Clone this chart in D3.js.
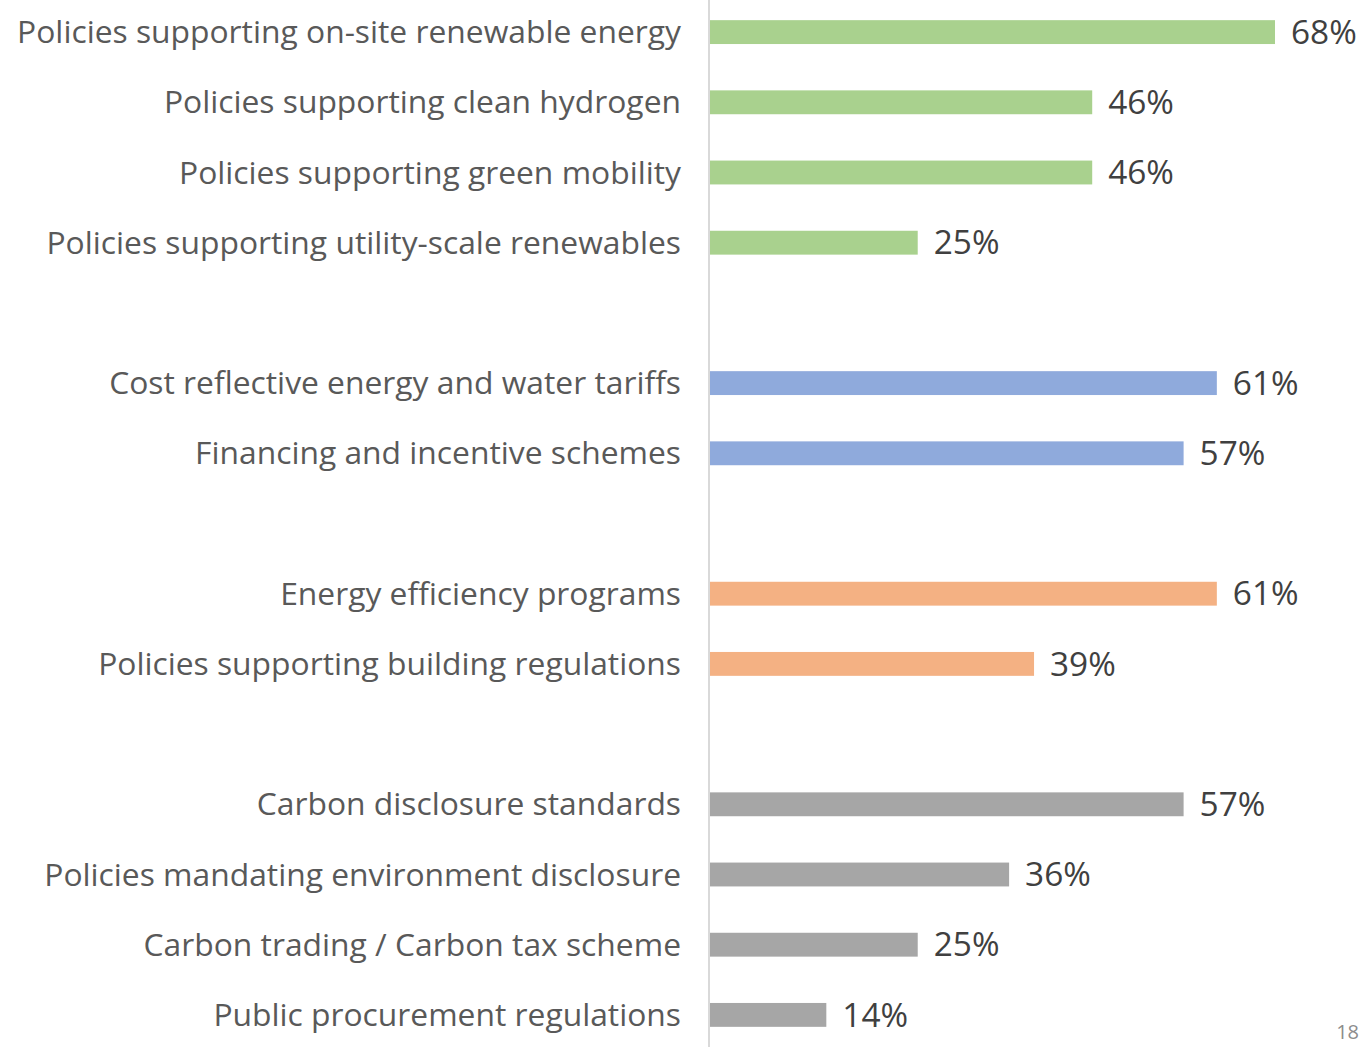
<!DOCTYPE html>
<meta charset="utf-8">
<style>
  body { margin: 0; background: #fff; }
</style>
<svg width="1367" height="1047"></svg>
<script src="https://d3js.org/d3.v7.min.js"></script>
<script>

var svg = d3.select("svg"),
    width = +svg.attr("width"),
    height = +svg.attr("height");

// rows top to bottom, "" = spacer between groups
var categories = [
  "Policies supporting on-site renewable energy",
  "Policies supporting clean hydrogen",
  "Policies supporting green mobility",
  "Policies supporting utility-scale renewables",
  "",
  "Cost reflective energy and water tariffs",
  "Financing and incentive schemes",
  "",
  "Energy efficiency programs",
  "Policies supporting building regulations",
  "",
  "Carbon disclosure standards",
  "Policies mandating environment disclosure",
  "Carbon trading / Carbon tax scheme",
  "Public procurement regulations"
];
var values = [68, 46, 46, 25, null, 61, 57, null, 61, 39, null, 57, 36, 25, 14];
var groups = ["supply", "supply", "supply", "supply", null, "price", "price", null,
              "efficiency", "efficiency", null, "disclosure", "disclosure", "disclosure", "disclosure"];

var groupColor = {
  supply: "#a9d18e",
  price: "#8faadc",
  efficiency: "#f4b183",
  disclosure: "#a6a6a6"
};

var labelFont = "Open Sans";
var labelColor = "#595959";
var valueColor = "#404040";
var axisX = 709;

var rows = categories.map(function(c, i) {
  return { label: c, value: values[i], group: groups[i], key: "r" + i };
});

var x = d3.scaleLinear()
    .domain([0, 68])
    .range([axisX + 1, 1275]);

var y = d3.scaleBand()
    .domain(rows.map(function(d) { return d.key; }))
    .range([-3, 1050])
    .paddingInner(0.66)
    .paddingOuter(0.33);

var data = rows.filter(function(d) { return d.value != null; });

// bars
svg.append("g")
    .selectAll("rect")
    .data(data)
    .enter().append("rect")
    .attr("x", x(0))
    .attr("y", function(d) { return y(d.key); })
    .attr("width", function(d) { return x(d.value) - x(0); })
    .attr("height", y.bandwidth())
    .attr("fill", function(d) { return groupColor[d.group]; });

// category labels
var labels = svg.append("g")
    .selectAll("text")
    .data(data)
    .enter().append("text")
    .attr("x", 681)
    .attr("y", function(d) { return y(d.key) + y.bandwidth() / 2; })
    .attr("dy", "0.35em")
    .attr("text-anchor", "end")
    .attr("fill", labelColor)
    .style("font-family", labelFont)
    .style("font-size", "27px")
    .text(function(d) { return d.label; });

// fit font size so the longest label spans like the original
var longest = labels.filter(function(d, i) { return i === 0; }).node();
var fs = 27 * 664 / longest.getComputedTextLength();
labels.style("font-size", fs + "px");

// value labels
svg.append("g")
    .selectAll("text")
    .data(data)
    .enter().append("text")
    .attr("x", function(d) { return x(d.value) + 16; })
    .attr("y", function(d) { return y(d.key) + y.bandwidth() / 2; })
    .attr("dy", "0.35em")
    .attr("fill", valueColor)
    .style("font-family", labelFont)
    .style("font-size", (fs * 1.05) + "px")
    .text(function(d) { return d.value + "%"; });

// vertical axis line
svg.append("line")
    .attr("x1", axisX).attr("x2", axisX)
    .attr("y1", 0).attr("y2", height)
    .attr("stroke", "#d9d9d9")
    .attr("stroke-width", 2);

// page number in the corner
svg.append("text")
    .attr("x", 1359)
    .attr("y", 1039)
    .attr("text-anchor", "end")
    .attr("fill", "#8c8c8c")
    .style("font-family", labelFont)
    .style("font-size", "20px")
    .text("18");

</script>
